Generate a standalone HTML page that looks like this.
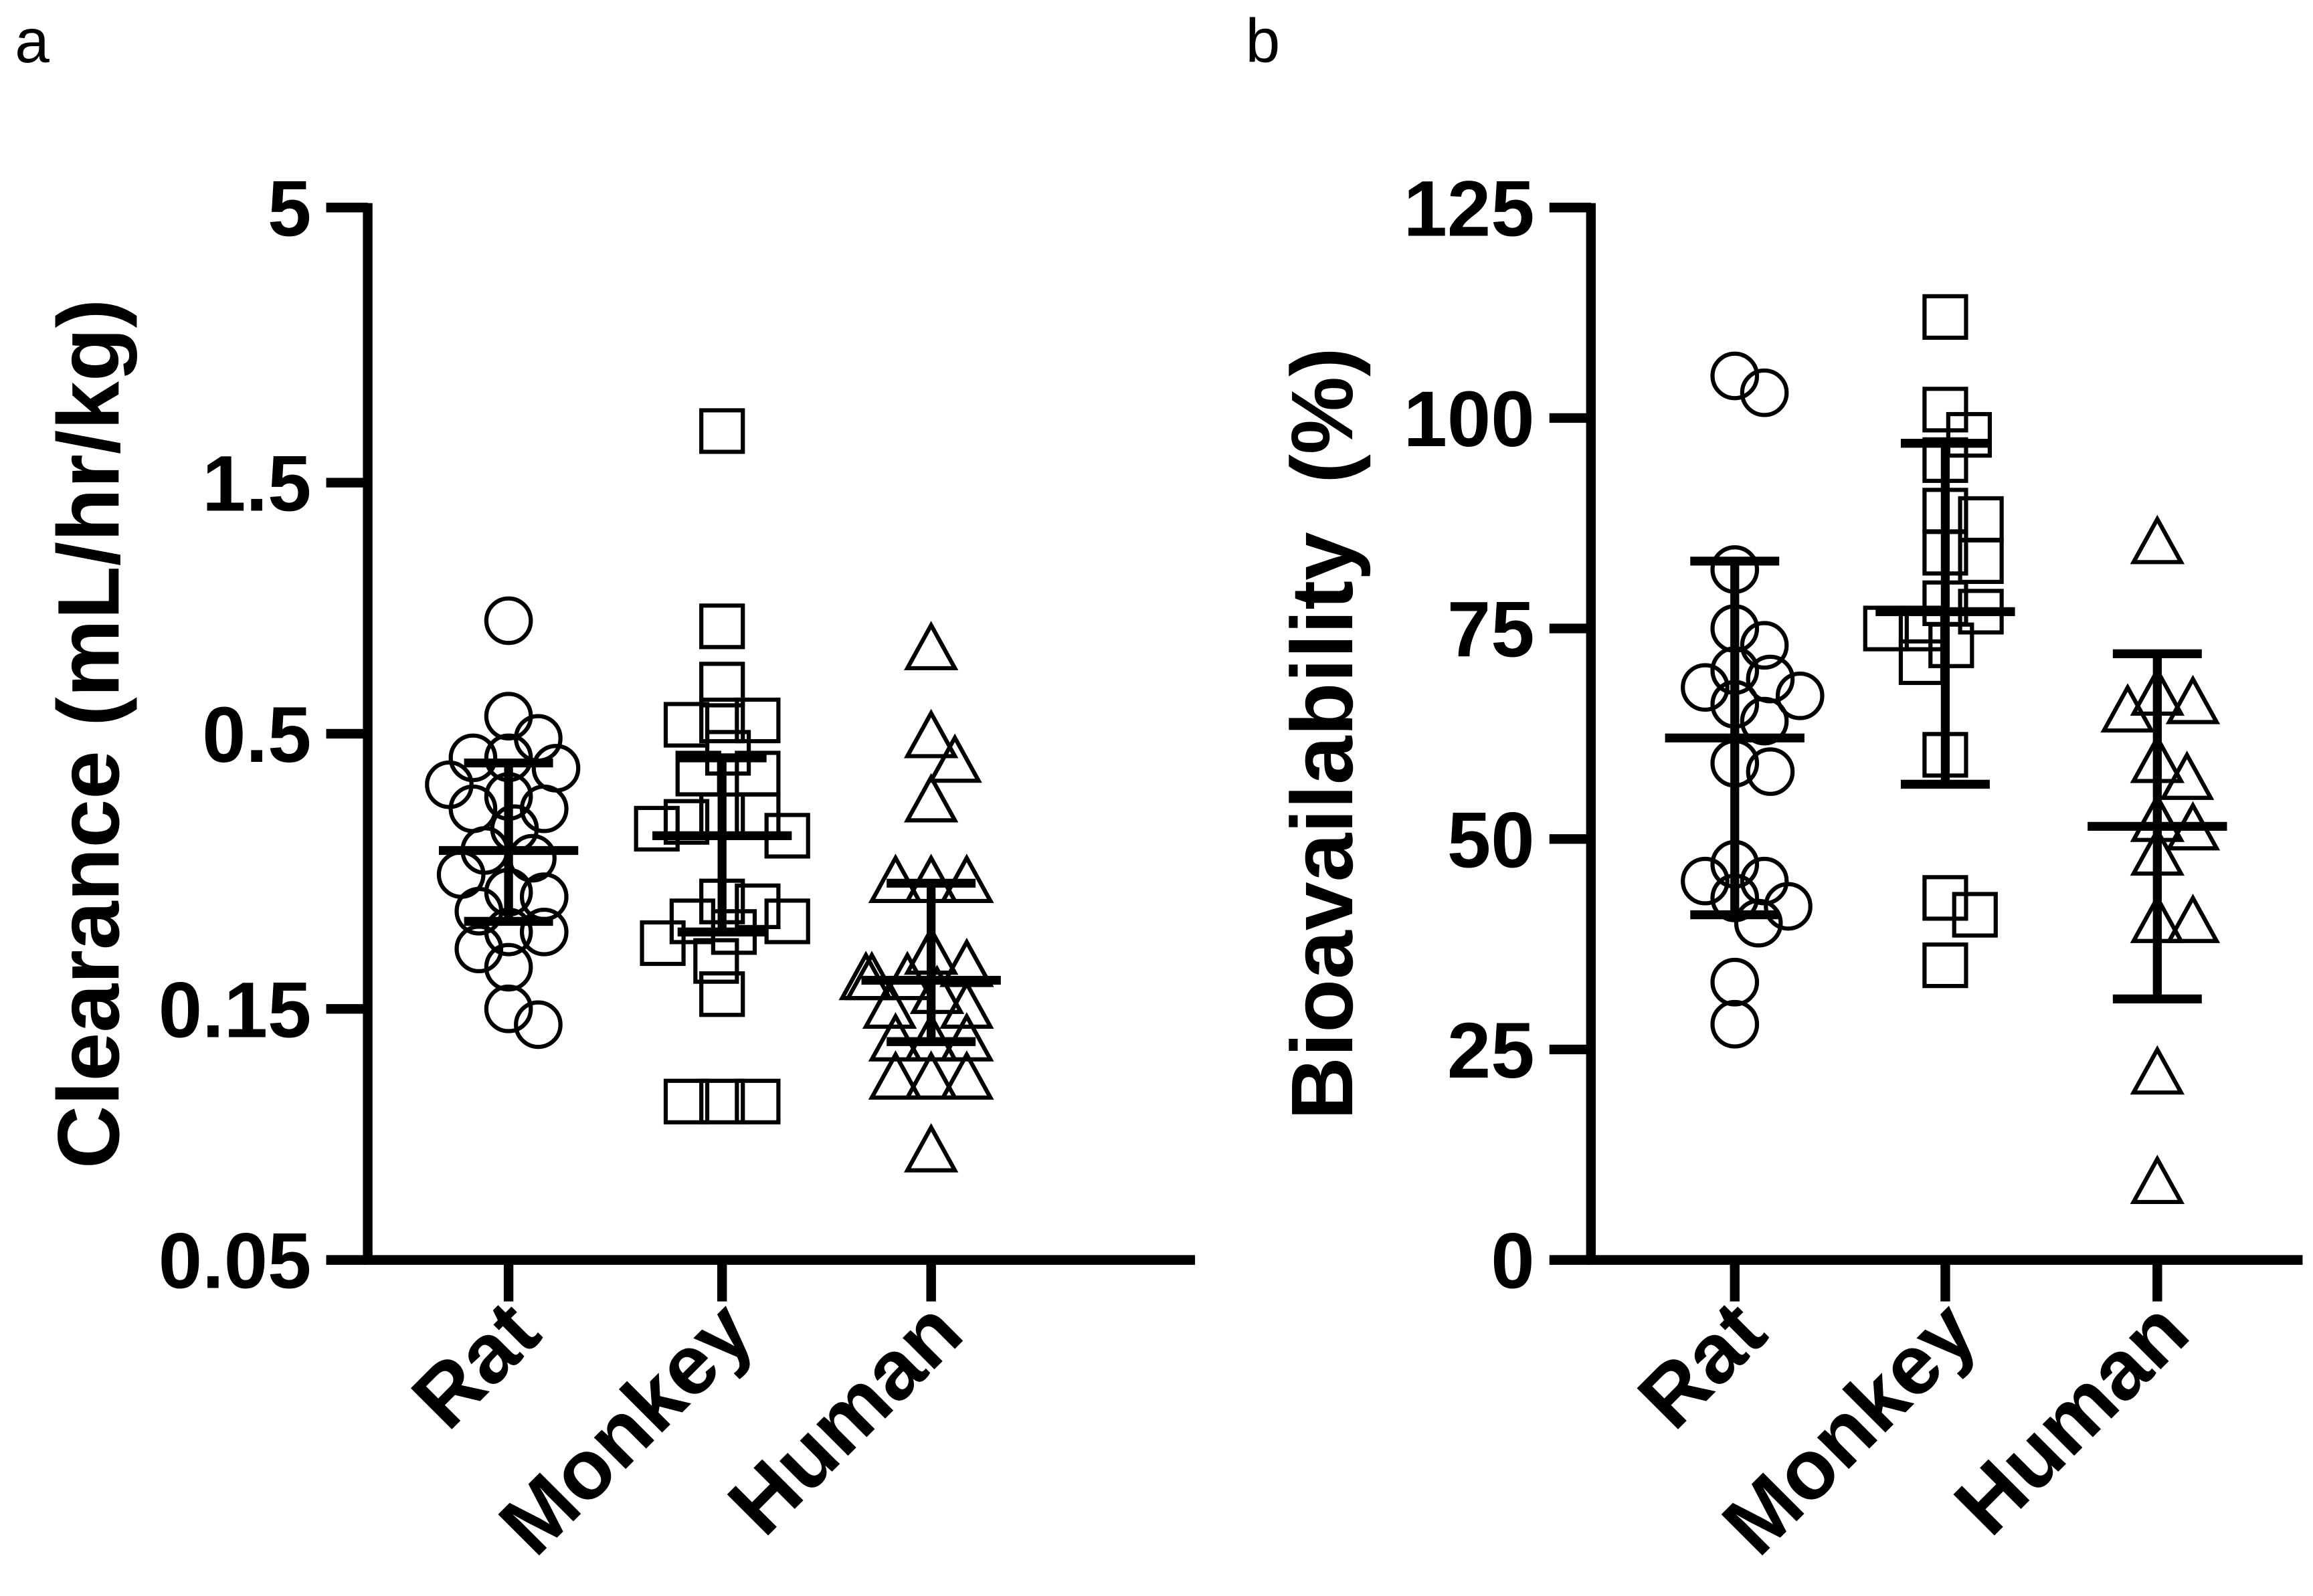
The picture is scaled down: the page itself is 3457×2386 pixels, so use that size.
<!DOCTYPE html>
<html><head><meta charset="utf-8"><style>
html,body{margin:0;padding:0;background:#fff;}
svg{display:block;}
text{font-family:"Liberation Sans",Arial,sans-serif;fill:#000;}
</style></head>
<body>
<svg id="fig" width="3457" height="2386" viewBox="0 0 1560 1076.7" preserveAspectRatio="none" xmlns="http://www.w3.org/2000/svg">
<text x="10" y="42" font-size="42">a</text>
<text x="840" y="42" font-size="42">b</text>
<g id="pa"></g>
<g id="pb"></g>
</svg>
<script>
const categories = ["Rat","Monkey","Human"];
// Panel a: clearance (mL/hr/kg), log scale
const clTicks = [0.05,0.15,0.5,1.5,5];
const clTickLabels = ["0.05","0.15","0.5","1.5","5"];
const clRat = [0.82,0.54,0.49,0.45,0.45,0.43,0.40,0.38,0.36,0.36,0.33,0.30,0.29,0.27,0.25,0.245,0.23,0.21,0.21,0.195,0.18,0.15,0.14];
const clMonkey = [1.88,0.80,0.62,0.53,0.53,0.52,0.46,0.42,0.42,0.35,0.35,0.34,0.33,0.32,0.24,0.235,0.22,0.22,0.21,0.20,0.185,0.16,0.10,0.10,0.10];
const clHuman = [0.72,0.49,0.44,0.37,0.26,0.26,0.26,0.19,0.18,0.17,0.17,0.17,0.16,0.15,0.15,0.13,0.13,0.13,0.11,0.11,0.11,0.08];
const clMean = [0.30,0.32,0.17];
const clUpper = [0.44,0.45,0.26];
const clLower = [0.22,0.21,0.13];
// Panel b: bioavailability (%), linear
const bTicks = [0,25,50,75,100,125];
const bTickLabels = ["0","25","50","75","100","125"];
const bRat = [105,103,82,75,73,70,69,68,67,66,64,59,58,47,45,45,43,42,40,33,28];
const bMonkey = [112,101,98,95,89,88,84,83,78,77,75,75,73,71,60,43,41,35];
const bHuman = [85,67,66,65,59,57,52,51,48,40,40,22,9];
const bMean = [62,77,51.5];
const bUpper = [83,97,72];
const bLower = [41,56.5,31];

const NS="http://www.w3.org/2000/svg";
function mk(tag,attrs,parent){const e=document.createElementNS(NS,tag);for(const k in attrs)e.setAttribute(k,attrs[k]);parent.appendChild(e);return e;}

function drawPanel(g,o){
  const {x0,x1,yTop,yBot,scale,ticks,labels,groups,mean,upper,lower,catX,title,titleX,prefix}=o;
  const yOf=v=>scale(v);
  let l=mk('line',{x1:x0,y1:yTop-3,x2:x0,y2:yBot+3,stroke:'#000','stroke-width':6.5},g);
  
  
  l=mk('line',{x1:x0-3,y1:yBot,x2:x1,y2:yBot,stroke:'#000','stroke-width':6.5},g);
  
  
  ticks.forEach((t,i)=>{
    const y=yOf(t);
    const tk=mk('line',{x1:x0-28,y1:y,x2:x0,y2:y,stroke:'#000','stroke-width':6.5},g);
    
    
    const tx=mk('text',{x:x0-38,y:y+19,'font-size':53,'font-weight':'bold','text-anchor':'end'},g);
    tx.textContent=labels[i];
    
    
  });
  const tt=mk('text',{x:0,y:0,'font-size':59,'font-weight':'bold','text-anchor':'middle',transform:`translate(${titleX},495) rotate(-90)`},g);
  tt.textContent=title;
  tt.setAttribute('xml:space','preserve');
  tt.style.whiteSpace='pre';
  
  
  categories.forEach((c,i)=>{
    const cx=catX[i];
    const tk=mk('line',{x1:cx,y1:yBot,x2:cx,y2:yBot+28,stroke:'#000','stroke-width':6.5},g);
    
    
    const tx=mk('text',{x:0,y:0,'font-size':57,'font-weight':'bold','text-anchor':'end',transform:`translate(${cx+24},${yBot+52}) rotate(-45)`},g);
    tx.textContent=c;
    
    
  });
  groups.forEach((vals,gi)=>{
    const cx=catX[gi];
    const pts=vals.map(v=>({y:yOf(v)})).sort((a,b)=>a.y-b.y);
    const placed=[];const D=22;
    pts.forEach(p=>{
      let best=0;
      for(let k=0;k<40;k++){
        const off=(k%2?1:-1)*Math.ceil(k/2)*4;
        if(Math.abs(off)>46)continue;
        if(placed.every(q=>Math.hypot(q.x-off,q.y-p.y)>=D)){best=off;break;}
        best=off;
      }
      p.x=best;placed.push(p);
    });
    placed.forEach(p=>{
      const x=cx+p.x,y=p.y;let m;
      if(gi===0) m=mk('circle',{cx:x,cy:y,r:15,fill:'none',stroke:'#000','stroke-width':2.8},g);
      else if(gi===1) m=mk('rect',{x:x-14,y:y-14,width:28,height:28,fill:'none',stroke:'#000','stroke-width':2.8},g);
      else m=mk('polygon',{points:`${x},${y-17} ${x-16},${y+12} ${x+16},${y+12}`,fill:'none',stroke:'#000','stroke-width':2.8},g);
      
      
    });
    const ym=yOf(mean[gi]),yu=yOf(upper[gi]),yl=yOf(lower[gi]);
    let e=mk('line',{x1:cx,y1:yu,x2:cx,y2:yl,stroke:'#000','stroke-width':6},g);
    
    
    e=mk('line',{x1:cx-30,y1:yu,x2:cx+30,y2:yu,stroke:'#000','stroke-width':6},g);
    
    
    e=mk('line',{x1:cx-30,y1:yl,x2:cx+30,y2:yl,stroke:'#000','stroke-width':6},g);
    
    
    e=mk('line',{x1:cx-47,y1:ym,x2:cx+47,y2:ym,stroke:'#000','stroke-width':6},g);
    
    
  });
}
const logScale=v=>850-(Math.log10(v)-Math.log10(0.05))/2*710;
const linScale=v=>850-v/125*710;
drawPanel(document.getElementById('pa'),{x0:248,x1:806,yTop:140,yBot:850,scale:logScale,ticks:clTicks,labels:clTickLabels,
  groups:[clRat,clMonkey,clHuman],mean:clMean,upper:clUpper,lower:clLower,catX:[343,487,628],title:"Clearance (mL/hr/kg)",titleX:80,prefix:'clearance'});
drawPanel(document.getElementById('pb'),{x0:1073,x1:1553,yTop:140,yBot:850,scale:linScale,ticks:bTicks,labels:bTickLabels,
  groups:[bRat,bMonkey,bHuman],mean:bMean,upper:bUpper,lower:bLower,catX:[1170,1312,1455],title:"Bioavailability  (%)",titleX:912,prefix:'bioavailability'});
</script>
</body></html>
